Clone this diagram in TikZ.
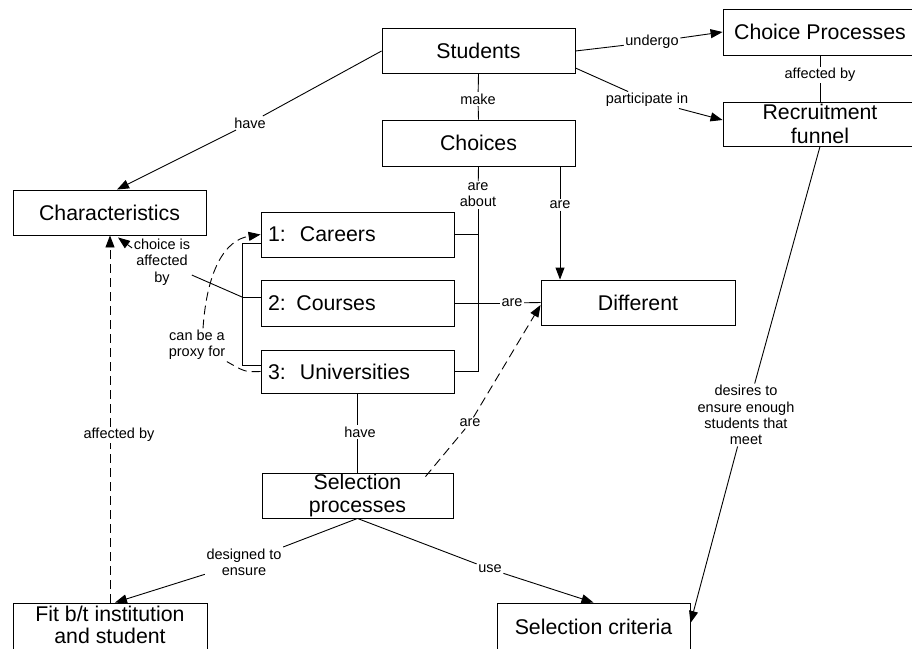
\documentclass[tikz,border=0pt]{standalone}
\usepackage{fontspec}
\setmainfont{Liberation Sans}
\usetikzlibrary{arrows.meta}
\begin{document}
\begin{tikzpicture}[x=1pt,y=-1pt,
  concept/.style={draw, line width=0.9pt, rectangle, inner sep=0pt,
    minimum width=193pt, minimum height=45pt, align=center,
    font=\fontsize{21.3}{23.4}\selectfont},
  item/.style={concept, text width=179pt, align=left, inner xsep=7pt},
  linklabel/.style={inner sep=1.5pt, align=center,
    font=\fontsize{14.5}{16.3}\selectfont},
  conn/.style={line width=0.9pt},
  arr/.style={conn, -{Triangle[length=12pt,width=9pt]}},
  dashedconn/.style={conn, dash pattern=on 9pt off 5pt}
]
\useasboundingbox (0,0) rectangle (912,648);

% concepts
\node[concept] (students) at (478.5,51) {Students};
\node[concept, minimum height=46pt] (choices) at (478.5,143) {Choices};
\node[concept, minimum width=194pt, minimum height=46pt] (cp) at (820,32) {Choice Processes};
\node[concept, minimum width=194pt, minimum height=44pt] (rf) at (820,124) {Recruitment\\funnel};
\node[concept] (char) at (109.5,212.5) {Characteristics};
\node[item] (careers) at (357.5,234.5) {1:\ \ Careers};
\node[item, minimum height=46pt] (courses) at (357.5,303) {2: Courses};
\node[item, minimum height=43pt] (univ) at (357.5,371.5) {3:\ \ Universities};
\node[concept, minimum width=194pt] (diff) at (638,302.5) {Different};
\node[concept, minimum width=191pt] (selp) at (357.5,495.5) {Selection\\processes};
% the two lowest boxes run past the lower edge of the page
\node[concept, minimum width=194pt, minimum height=50pt] (fit) at (110,628)
  {\raisebox{4pt}{\def\arraystretch{0.96}\begin{tabular}{@{}c@{}}Fit b/t institution\\and student\end{tabular}}};
\node[concept, minimum height=50pt] (selc) at (593.5,628)
  {\raisebox{2.5pt}{Selection criteria}};

% link labels
\node[linklabel] (lhave) at (250,123) {have};
\node[linklabel] (lmake) at (478,99) {make};
\node[linklabel] (lundergo) at (652,42) {undergo};
\node[linklabel] (lpart) at (647,100) {participate in};
\node[linklabel] (laff1) at (820,75) {affected by};
\node[linklabel] (labout) at (478,195) {are\\about};
\node[linklabel] (lare1) at (560,205) {are};
\node[linklabel] (lare2) at (512,303) {are};
\node[linklabel] (lchoice) at (162,262) {choice is\\affected\\by};
\node[linklabel] (lproxy) at (197,345) {can be a\\proxy for};
\node[linklabel] (laff2) at (119,435) {affected by};
\node[linklabel] (lhave2) at (360,432) {have};
\node[linklabel] (lare3) at (470,423) {are};
\node[linklabel] (ldesign) at (244,562) {designed to\\ensure};
\node[linklabel] (luse) at (490,569) {use};
\node[linklabel] (ldesires) at (746,415) {desires to\\ensure enough\\students that\\meet};

% bracket joints
\coordinate (rb1) at (478,234.5);
\coordinate (rb2) at (478,303);
\coordinate (rb3) at (478,371.5);
\coordinate (lb1) at (242,243);
\coordinate (lb2) at (242,297);
\coordinate (lb3) at (242,365);

% students
\draw[conn] (students.west) -- (lhave);
\draw[arr] (lhave) -- ([xshift=7.5pt]char.north);
\draw[conn] (students.south) -- (lmake);
\draw[conn] (lmake) -- (choices.north);
\draw[conn] (students.east) -- (lundergo);
\draw[arr] (lundergo) -- (cp.west);
\draw[conn] ([yshift=-17pt]students.east) -- (lpart);
\draw[arr] (lpart) -- ([yshift=4pt]rf.west);

% choice processes and recruitment funnel
\draw[conn] (cp.south) -- (laff1);
\draw[conn] (laff1) -- (rf.north);
\draw[conn] (rf.south) -- (ldesires);
\draw[arr] (ldesires) -- ([yshift=5pt]selc.east);

% choices are about
\draw[conn] (choices.south) -- (labout);
\draw[conn] (labout) -- (rb3);
\draw[conn] (careers.east) -- (rb1);
\draw[conn] (courses.east) -- (rb2);
\draw[conn] (univ.east) -- (rb3);
\draw[conn] (rb2) -- (lare2);
\draw[conn] (lare2) -- (diff.west);
\draw[conn] ([xshift=81.5pt]choices.south) -- (lare1);
\draw[arr] (lare1) -- (lare1 |- diff.north);

% left bracket
\draw[conn] (careers.west |- lb1) -- (lb1) -- (lb3) -- (univ.west |- lb3);
\draw[conn] (lb2) -- (courses.west |- lb2);
\draw[conn] (lb2) -- (lchoice);
\draw[arr] ([yshift=14pt]lchoice.west) -- ([xshift=8.5pt,yshift=-2pt]char.south);

% proxy
\draw[dashedconn] (univ.west) .. controls (245,372) .. (lproxy.south east);
\draw[dashedconn, arr] ([xshift=6pt]lproxy.north) .. controls (207,270) and (225,240) .. (careers.west);

% fit and characteristics
\draw[dashedconn] (fit.north) -- (fit.north |- laff2.south);
\draw[dashedconn, arr] (fit.north |- laff2.north) -- (fit.north |- char.south);

% selection processes
\draw[conn] (univ.south) -- (univ.south |- lhave2.north);
\draw[conn] (univ.south |- lhave2.south) -- (selp.north);
\draw[conn] (selp.south) -- (ldesign);
\draw[arr] (ldesign) -- ([xshift=5pt]fit.north);
\draw[conn] (selp.south) -- (luse);
\draw[arr] (luse) -- (selc.north);
\draw[dashedconn] ([xshift=68pt,yshift=-4pt]selp.north) -- (lare3);
\draw[dashedconn, arr] (lare3) -- ([yshift=-2.5pt]diff.west);
\end{tikzpicture}
\end{document}
